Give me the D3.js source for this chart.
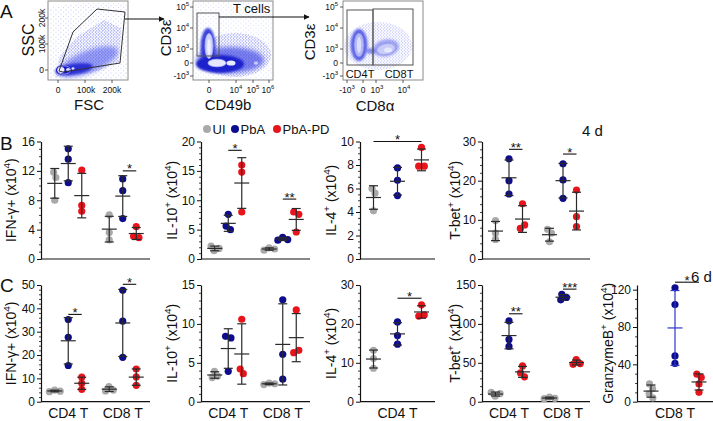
<!DOCTYPE html>
<html><head><meta charset="utf-8">
<script src="https://cdn.jsdelivr.net/npm/d3@7"></script>
<style>
body{margin:0;background:#fff}
svg{display:block}
text{font-family:"Liberation Sans",Arial,Helvetica,sans-serif;fill:#111}
</style>
</head><body><svg id="c" width="713" height="421"></svg>
<script>
// ---------------- DATA ----------------
const groups = ["UI", "PbA", "PbA-PD"];
const groupColors = ["#a9a9a9", "#0c0c8c", "#e8141b"];
const catsBoth = ["CD4 T", "CD8 T"];
const catsCD4 = ["CD4 T"];
const catsCD8 = ["CD8 T"];

// B (4 d) – values x10^4, per category: [UI, PbA, PbA-PD]
const ifnB_CD4 = [[11.8, 11.1, 8.0], [15.0, 13.6, 10.4], [12.1, 7.3, 6.5]];
const ifnB_CD8 = [[6.0, 3.6, 2.6], [10.9, 9.3, 5.5], [4.4, 3.1, 2.9]];
const il10B_CD4 = [[2.2, 1.4, 1.8], [7.6, 5.6, 5.0], [16.0, 14.8, 8.0]];
const il10B_CD8 = [[1.9, 1.5, 1.7], [3.7, 3.3, 3.2], [8.0, 7.6, 4.6]];
const il4B_CD4 = [[6.0, 5.6, 4.1], [7.75, 6.7, 5.4], [9.5, 7.9, 7.9]];
const tbetB_CD4 = [[9.8, 6.6, 5.0], [25.6, 20.0, 16.6], [14.1, 7.8, 8.7]];
const tbetB_CD8 = [[7.6, 6.6, 4.4], [24.3, 20.2, 15.5], [17.6, 10.8, 8.3]];

// C (6 d)
const ifnC_CD4 = [[5.0, 4.5, 4.3], [35.2, 27.6, 15.5], [10.5, 5.3, 7.9]];
const ifnC_CD8 = [[6.5, 5.0, 4.6], [47.7, 34.5, 19.0], [14.0, 10.6, 7.0]];
const il10C_CD4 = [[3.9, 3.3, 3.1], [8.4, 8.2, 3.9], [10.6, 4.2, 3.6]];
const il10C_CD8 = [[2.4, 2.3, 2.2], [13.1, 6.1, 2.9], [11.8, 6.3, 6.6]];
const il4C_CD4 = [[13.2, 11.1, 8.6], [20.5, 17.0, 14.8], [24.9, 22.0, 22.3]];
const tbetC_CD4 = [[12.0, 10.5, 7.0], [104, 80, 71], [46, 37, 32]];
const tbetC_CD8 = [[6.0, 4.3, 3.9], [138, 134, 131], [54, 49, 48]];
const gzmbC_CD8 = [[19, 14, 8.5, 4], [122, 104, 49, 41], [29.6, 26, 19, 10]];

// significance bars: category, compared groups, height (data units), mark
const sigB_IFN = [{cat: "CD8 T", from: "PbA", to: "PbA-PD", at: 12, mark: "*"}];
const sigB_IL10 = [{cat: "CD4 T", from: "PbA", to: "PbA-PD", at: 18.5, mark: "*"},
                   {cat: "CD8 T", from: "PbA", to: "PbA-PD", at: 10.2, mark: "**"}];
const sigB_IL4 = [{cat: "CD4 T", from: "UI", to: "PbA-PD", at: 10, mark: "*"}];
const sigB_TBET = [{cat: "CD4 T", from: "PbA", to: "PbA-PD", at: 28, mark: "**"},
                   {cat: "CD8 T", from: "PbA", to: "PbA-PD", at: 26.8, mark: "*"}];
const sigC_IFN = [{cat: "CD4 T", from: "PbA", to: "PbA-PD", at: 37.4, mark: "*"},
                  {cat: "CD8 T", from: "PbA", to: "PbA-PD", at: 50.3, mark: "*"}];
const sigC_IL10 = [];
const sigC_IL4 = [{cat: "CD4 T", from: "PbA", to: "PbA-PD", at: 26.6, mark: "*"}];
const sigC_TBET = [{cat: "CD4 T", from: "PbA", to: "PbA-PD", at: 113, mark: "**"},
                   {cat: "CD8 T", from: "PbA", to: "PbA-PD", at: 144.7, mark: "***"}];
const sigC_GZMB = [{cat: "CD8 T", from: "PbA", to: "PbA-PD", at: 128, mark: "*"}];

// tick labels
const ticksIfnB = [0, 4, 8, 12, 16];
const ticksIl10B = [0, 5, 10, 15, 20];
const ticksIl4B = [0, 2, 4, 6, 8, 10];
const ticksTbetB = [0, 10, 20, 30];
const ticksIfnC = [0, 10, 20, 30, 40, 50];
const ticksIl10C = [0, 5, 10, 15];
const ticksIl4C = [0, 10, 20, 30];
const ticksTbetC = [0, 50, 100, 150];
const ticksGzmbC = [0, 40, 80, 120];

// axis titles (text, superscript flag)
const lblIFN = [["IFN-γ+ (x10", 0], ["4", 1], [")", 0]];
const lblIL10 = [["IL-10", 0], ["+", 1], [" (x10", 0], ["4", 1], [")", 0]];
const lblIL4 = [["IL-4", 0], ["+", 1], [" (x10", 0], ["4", 1], [")", 0]];
const lblTBET = [["T-bet", 0], ["+", 1], [" (x10", 0], ["4", 1], [")", 0]];
const lblGZMB = [["GranzymeB", 0], ["+", 1], [" (x10", 0], ["4", 1], [")", 0]];

// ---------------- HELPERS ----------------
const svg = d3.select("#c");
const defs = svg.append("defs");
function blur(id, s) {
  defs.append("filter").attr("id", id).attr("x", "-50%").attr("y", "-50%")
    .attr("width", "200%").attr("height", "200%")
    .append("feGaussianBlur").attr("stdDeviation", s);
}
blur("b05", 0.5); blur("b1", 1.1); blur("b2", 2.2); blur("b3", 3.5);
const pat = defs.append("pattern").attr("id", "dp").attr("patternUnits", "userSpaceOnUse")
  .attr("width", 3).attr("height", 3);
pat.append("circle").attr("cx", 0.8).attr("cy", 0.8).attr("r", 0.6).attr("fill", "#3440e4");
pat.append("circle").attr("cx", 2.3).attr("cy", 2.1).attr("r", 0.55).attr("fill", "#3440e4");
const pat2 = defs.append("pattern").attr("id", "dp2").attr("patternUnits", "userSpaceOnUse")
  .attr("width", 5).attr("height", 4.5);
pat2.append("circle").attr("cx", 1).attr("cy", 1).attr("r", 0.5).attr("fill", "#5560ea");
pat2.append("circle").attr("cx", 3.6).attr("cy", 3.2).attr("r", 0.45).attr("fill", "#5560ea");
const mk = defs.append("marker").attr("id", "arr").attr("viewBox", "0 0 10 10")
  .attr("refX", 9).attr("refY", 5).attr("markerWidth", 6).attr("markerHeight", 6)
  .attr("markerUnits", "userSpaceOnUse").attr("orient", "auto");
mk.append("path").attr("d", "M0,0L10,5L0,10z").attr("fill", "#111");

function rich(parent, x, y, parts, size) {
  const t = parent.append("text").attr("x", x).attr("y", y).attr("font-size", size);
  let sup = false;
  parts.forEach(([s, isSup]) => {
    const ts = t.append("tspan").text(s);
    if (isSup) ts.attr("font-size", size * 0.7);
    if (isSup && !sup) ts.attr("dy", -size * 0.42);
    if (!isSup && sup) ts.attr("dy", size * 0.42);
    sup = !!isSup;
  });
  return t;
}

// ---------------- PANEL A (flow plots) ----------------
const A = svg.append("g");
A.append("text").attr("x", 0).attr("y", 18).attr("font-size", 19).text("A");

function clip(id, x0, y0, x1, y1) {
  defs.append("clipPath").attr("id", id).append("rect")
    .attr("x", x0).attr("y", y0).attr("width", x1 - x0).attr("height", y1 - y0);
  return A.append("g").attr("clip-path", `url(#${id})`);
}
function frame(x0, y0, x1, y1) {
  A.append("rect").attr("x", x0).attr("y", y0).attr("width", x1 - x0).attr("height", y1 - y0)
    .attr("fill", "none").attr("stroke", "#8a8a8a").attr("stroke-width", 1);
}
function ell(g, cx, cy, rx, ry, fill, op, filt, rot, stroke) {
  const e = g.append("ellipse").attr("cx", cx).attr("cy", cy).attr("rx", rx).attr("ry", ry)
    .attr("fill", fill).attr("opacity", op == null ? 1 : op);
  if (filt) e.attr("filter", `url(#${filt})`);
  if (rot) e.attr("transform", `rotate(${rot},${cx},${cy})`);
  if (stroke) e.attr("stroke", stroke).attr("stroke-width", 0.8);
  return e;
}
function ticksOnFrame(xs, ys, x0, y1) {
  xs.forEach(x => A.append("line").attr("x1", x).attr("x2", x).attr("y1", y1).attr("y2", y1 + 3)
    .attr("stroke", "#333").attr("stroke-width", 0.8));
  ys.forEach(y => A.append("line").attr("x1", x0 - 3).attr("x2", x0).attr("y1", y).attr("y2", y)
    .attr("stroke", "#333").attr("stroke-width", 0.8));
}

// plot 1: FSC / SSC
{
  const g = clip("cp1", 48, 1, 128, 80);
  g.append("polygon").attr("points", "49,79 49,8 80,3 127,3 127,79").attr("fill", "url(#dp2)").attr("opacity", 0.5);
  g.append("polygon").attr("points", "55,77 60,56 78,36 104,20 121,28 119,62 92,73").attr("fill", "url(#dp)").attr("opacity", 0.7);
  ell(g, 88, 62, 32, 11, "#4b56ea", 0.55, "b2", -22);
  ell(g, 74, 69, 19, 5.5, "#2228d2", 0.9, "b1", -8);
  ell(g, 64, 70, 8, 5, "#1818c2", 1, "b05");
  ell(g, 61, 70, 3.5, 3, "#eceeff", 1, "b05");
  ell(g, 68, 69.5, 2, 1.6, "#dfe1ff", 1, "b05");
  ell(g, 73, 68.5, 1.5, 1.3, "#dfe1ff", 1, "b05");
  ell(g, 64, 70, 6.5, 4.2, "none", 1, null, 0, "#c4c8ff");
  frame(48, 1, 128, 80);
  A.append("polygon").attr("points", "59,71 73,32 97,9 125,12 120,63 63,72")
    .attr("fill", "none").attr("stroke", "#333").attr("stroke-width", 1);
  ticksOnFrame([58, 85, 112], [18, 44, 70], 48, 80);
  A.append("text").attr("transform", "translate(45,18) rotate(-90)").attr("text-anchor", "middle").attr("font-size", 8.5).text("200k");
  A.append("text").attr("transform", "translate(45,44) rotate(-90)").attr("text-anchor", "middle").attr("font-size", 8.5).text("100k");
  A.append("text").attr("x", 44).attr("y", 73).attr("text-anchor", "end").attr("font-size", 8.5).text("0");
  [["0", 58], ["100k", 86], ["200k", 112]].forEach(([t, x]) =>
    A.append("text").attr("x", x).attr("y", 93).attr("text-anchor", "middle").attr("font-size", 8.5).text(t));
  A.append("text").attr("transform", "translate(34,40) rotate(-90)").attr("text-anchor", "middle").attr("font-size", 16).text("SSC");
  A.append("text").attr("x", 89).attr("y", 110).attr("text-anchor", "middle").attr("font-size", 15).text("FSC");
  A.append("line").attr("x1", 125).attr("y1", 19).attr("x2", 164).attr("y2", 19)
    .attr("stroke", "#111").attr("stroke-width", 1.2).attr("marker-end", "url(#arr)");
}

function logTicksY(xRight) {
  [[[["10", 0], ["5", 1]], 7], [[["10", 0], ["4", 1]], 28], [[["10", 0], ["3", 1]], 49], [[["0", 0]], 63], [[["-10", 0], ["3", 1]], 76]]
    .forEach(([parts, y]) => rich(A, xRight, y + 3, parts, 8.5).attr("text-anchor", "end"));
}

// plot 2: CD49b / CD3e
{
  const g = clip("cp2", 193, 1, 273, 80);
  g.append("rect").attr("x", 193).attr("y", 1).attr("width", 80).attr("height", 79).attr("fill", "url(#dp2)").attr("opacity", 0.35);
  ell(g, 235, 55, 36, 22, "url(#dp)", 0.7);
  ell(g, 230, 60, 34, 13, "#3a43e2", 0.65, "b2");
  ell(g, 208, 47, 7.5, 19, "#2a31d6", 0.9, "b1");
  ell(g, 220, 64, 24, 9, "#1d22cc", 1, "b1");
  ell(g, 209, 46, 4, 12.5, "#cdd0ff", 1, "b05", 0, "#a9aef6");
  ell(g, 209, 47, 1.8, 8, "#eef0ff", 1, "b05");
  ell(g, 217, 63, 9, 3.8, "#e6e8ff", 1, "b05", 0, "#b4b8f6");
  ell(g, 231, 63, 4.5, 2.6, "#e8eaff", 1, "b05");
  ell(g, 256, 63, 2.2, 1.8, "#c6c9f8", 1, "b05");
  frame(193, 1, 273, 80);
  A.append("rect").attr("x", 197).attr("y", 13).attr("width", 22).attr("height", 43)
    .attr("fill", "none").attr("stroke", "#555").attr("stroke-width", 1);
  A.append("text").attr("x", 233).attr("y", 13).attr("font-size", 13).text("T cells");
  A.append("line").attr("x1", 219).attr("y1", 17).attr("x2", 309).attr("y2", 17)
    .attr("stroke", "#111").attr("stroke-width", 1.2).attr("marker-end", "url(#arr)");
  ticksOnFrame([209, 236, 253, 269], [7, 28, 49, 63, 76], 193, 80);
  logTicksY(189);
  [[[["0", 0]], 209], [[["10", 0], ["4", 1]], 236], [[["10", 0], ["5", 1]], 253], [[["10", 0], ["6", 1]], 268]]
    .forEach(([p, x]) => rich(A, x, 93, p, 8.5).attr("text-anchor", "middle"));
  A.append("text").attr("transform", "translate(171,38) rotate(-90)").attr("text-anchor", "middle").attr("font-size", 15).text("CD3ε");
  A.append("text").attr("x", 228).attr("y", 110).attr("text-anchor", "middle").attr("font-size", 15).text("CD49b");
}

// plot 3: CD8a / CD3e
{
  const g = clip("cp3", 343, 1, 423, 80);
  ell(g, 378, 46, 34, 24, "url(#dp)", 0.45);
  ell(g, 359, 45, 8.5, 16, "#3a43e2", 0.8, "b1");
  ell(g, 359, 45, 5, 12, "#b3b7f4", 1, "b05", 0, "#7c84e6");
  ell(g, 359, 45, 2.2, 8, "#dcdeff", 1, "b05");
  ell(g, 371, 51, 5, 3, "#5a63e8", 0.7, "b1");
  ell(g, 386, 48, 13, 8.5, "#6a72ec", 0.6, "b1", -12);
  ell(g, 386, 49, 9.5, 5.5, "#c9ccf6", 1, "b05", -12, "#8a90e8");
  ell(g, 388, 50, 4, 2.5, "#e6e8ff", 1, "b05");
  frame(343, 1, 423, 80);
  A.append("rect").attr("x", 347).attr("y", 10).attr("width", 26).attr("height", 55)
    .attr("fill", "none").attr("stroke", "#555").attr("stroke-width", 1);
  A.append("rect").attr("x", 373).attr("y", 9).attr("width", 40).attr("height", 56)
    .attr("fill", "none").attr("stroke", "#555").attr("stroke-width", 1);
  A.append("text").attr("x", 360).attr("y", 78).attr("text-anchor", "middle").attr("font-size", 11).text("CD4T");
  A.append("text").attr("x", 399).attr("y", 78).attr("text-anchor", "middle").attr("font-size", 11).text("CD8T");
  ticksOnFrame([347, 363, 376, 403], [7, 28, 49, 63, 76], 343, 80);
  logTicksY(338);
  [[[["-10", 0], ["3", 1]], 347], [[["0", 0]], 363], [[["10", 0], ["3", 1]], 377], [[["10", 0], ["4", 1]], 404]]
    .forEach(([p, x]) => rich(A, x, 93, p, 8.5).attr("text-anchor", "middle"));
  A.append("text").attr("transform", "translate(315,42) rotate(-90)").attr("text-anchor", "middle").attr("font-size", 15).text("CD3ε");
  A.append("text").attr("x", 375).attr("y", 111).attr("text-anchor", "middle").attr("font-size", 15).text("CD8α");
}

// ---------------- PANELS B and C ----------------
const rowB = {yTop: 141.5, yBot: 259};
const rowC = {yTop: 285, yBot: 401.7};
const cols = [
  {x0: 41, x1: 150, lx: 16, off: 13.5},
  {x0: 201, x1: 310, lx: 177, off: 13.5},
  {x0: 360, x1: 435, lx: 336, off: 24},
  {x0: 482, x1: 590, lx: 460, off: 13.5},
  {x0: 637, x1: 713, lx: 613, off: 24}
];
const panels = [
  {row: rowB, col: cols[0], yMax: 16, ticks: ticksIfnB, minor: 1, cats: catsBoth, data: [ifnB_CD4, ifnB_CD8], label: lblIFN, sig: sigB_IFN},
  {row: rowB, col: cols[1], yMax: 20, ticks: ticksIl10B, minor: 1, cats: catsBoth, data: [il10B_CD4, il10B_CD8], label: lblIL10, sig: sigB_IL10},
  {row: rowB, col: cols[2], yMax: 10, ticks: ticksIl4B, minor: 0.5, cats: catsCD4, data: [il4B_CD4], label: lblIL4, sig: sigB_IL4},
  {row: rowB, col: cols[3], yMax: 30, ticks: ticksTbetB, minor: 2, cats: catsBoth, data: [tbetB_CD4, tbetB_CD8], label: lblTBET, sig: sigB_TBET},
  {row: rowC, col: cols[0], yMax: 50, ticks: ticksIfnC, minor: 2, cats: catsBoth, data: [ifnC_CD4, ifnC_CD8], label: lblIFN, sig: sigC_IFN, xlab: true},
  {row: rowC, col: cols[1], yMax: 15, ticks: ticksIl10C, minor: 1, cats: catsBoth, data: [il10C_CD4, il10C_CD8], label: lblIL10, sig: sigC_IL10, xlab: true},
  {row: rowC, col: cols[2], yMax: 30, ticks: ticksIl4C, minor: 2, cats: catsCD4, data: [il4C_CD4], label: lblIL4, sig: sigC_IL4, xlab: true},
  {row: rowC, col: cols[3], yMax: 150, ticks: ticksTbetC, minor: 10, cats: catsBoth, data: [tbetC_CD4, tbetC_CD8], label: lblTBET, sig: sigC_TBET, xlab: true},
  {row: rowC, col: cols[4], yMax: 125, ticks: ticksGzmbC, minor: 10, cats: catsCD8, data: [gzmbC_CD8], label: lblGZMB, sig: sigC_GZMB, xlab: true, blueBar: true}
];

const R = 3.6;
function swarm(vals, cx, y) {
  const nodes = vals.map(v => ({x: cx, y: y(v), fy: y(v), v}));
  const sim = d3.forceSimulation(nodes)
    .force("x", d3.forceX(cx).strength(0.15))
    .force("c", d3.forceCollide(2.8))
    .stop();
  for (let i = 0; i < 250; i++) sim.tick();
  return nodes;
}

panels.forEach(p => {
  const {row, col} = p;
  const g = svg.append("g");
  const y = d3.scaleLinear().domain([0, p.yMax]).range([row.yBot, row.yTop]);
  const xc = d3.scalePoint().domain(p.cats).range([col.x0, col.x1]).padding(0.5);
  const xg = d3.scalePoint().domain(groups).range([-col.off, col.off]);

  // minor ticks
  const minorVals = d3.range(0, p.yMax + 1e-9, p.minor).filter(v => !p.ticks.some(t => Math.abs(t - v) < 1e-9));
  g.append("g").attr("transform", `translate(${col.x0},0)`)
    .call(d3.axisLeft(y).tickValues(minorVals).tickSize(2).tickFormat(""))
    .call(s => s.select(".domain").remove())
    .selectAll("line").attr("stroke", "#111").attr("stroke-width", 0.8);
  // major axis
  const ax = g.append("g").attr("transform", `translate(${col.x0},0)`)
    .call(d3.axisLeft(y).tickValues(p.ticks).tickSize(4).tickSizeOuter(0).tickPadding(2).tickFormat(d3.format("d")));
  ax.select(".domain").attr("stroke", "#111").attr("stroke-width", 1.2);
  ax.selectAll(".tick line").attr("stroke", "#111").attr("stroke-width", 1);
  ax.selectAll(".tick text").attr("font-size", 12).attr("font-family", "Liberation Sans, Arial, sans-serif").attr("fill", "#111");
  // x baseline
  g.append("line").attr("x1", col.x0).attr("x2", col.x1).attr("y1", row.yBot).attr("y2", row.yBot)
    .attr("stroke", "#111").attr("stroke-width", 1.2);

  // y label
  const cy = (row.yTop + row.yBot) / 2;
  const lg = g.append("g").attr("transform", `translate(${col.lx},${cy}) rotate(-90)`);
  rich(lg, 0, 0, p.label, 14).attr("text-anchor", "middle");

  // x labels
  if (p.xlab) {
    p.cats.forEach(c => g.append("text").attr("x", xc(c)).attr("y", 418)
      .attr("text-anchor", "middle").attr("font-size", 14).text(c));
  }

  // points + mean/SD
  p.cats.forEach((c, ci) => {
    p.data[ci].forEach((vals, gi) => {
      const cx = xc(c) + xg(groups[gi]);
      const nodes = swarm(vals, cx, y);
      g.selectAll(null).data(nodes).join("circle")
        .attr("cx", d => d.x).attr("cy", d => d.y).attr("r", R)
        .attr("fill", groupColors[gi]);
      const m = d3.mean(vals), sd = d3.deviation(vals);
      const col2 = (p.blueBar && gi === 1) ? "#2a37c9" : "#2a2a2a";
      const bar = g.append("g").attr("stroke", col2).attr("stroke-width", 1.2);
      bar.append("line").attr("x1", cx).attr("x2", cx).attr("y1", y(m - sd)).attr("y2", y(m + sd));
      [m - sd, m + sd].forEach(v => bar.append("line").attr("x1", cx - 4.5).attr("x2", cx + 4.5).attr("y1", y(v)).attr("y2", y(v)));
      bar.append("line").attr("x1", cx - 7.5).attr("x2", cx + 7.5).attr("y1", y(m)).attr("y2", y(m));
    });
  });

  // significance
  p.sig.forEach(s => {
    const xa = xc(s.cat) + xg(s.from), xb = xc(s.cat) + xg(s.to), yy = y(s.at);
    g.append("line").attr("x1", xa).attr("x2", xb).attr("y1", yy).attr("y2", yy)
      .attr("stroke", "#111").attr("stroke-width", 1.1);
    g.append("text").attr("x", (xa + xb) / 2).attr("y", yy + 2.6).attr("text-anchor", "middle")
      .attr("font-size", 13).text(s.mark);
  });
});

// labels B / C, legend, day labels
svg.append("text").attr("x", 0).attr("y", 150).attr("font-size", 19).text("B");
svg.append("text").attr("x", 0).attr("y", 292).attr("font-size", 19).text("C");
svg.append("text").attr("x", 582).attr("y", 136).attr("font-size", 15).text("4 d");
svg.append("text").attr("x", 691).attr("y", 282).attr("font-size", 15).text("6 d");

const leg = svg.append("g");
groups.forEach((gname, i) => {
  const x = [207, 235, 277][i];
  leg.append("circle").attr("cx", x).attr("cy", 129).attr("r", 4).attr("fill", groupColors[i]);
  leg.append("text").attr("x", x + 5.5).attr("y", 133.5).attr("font-size", 13).text(gname);
});
</script>
</body></html>
